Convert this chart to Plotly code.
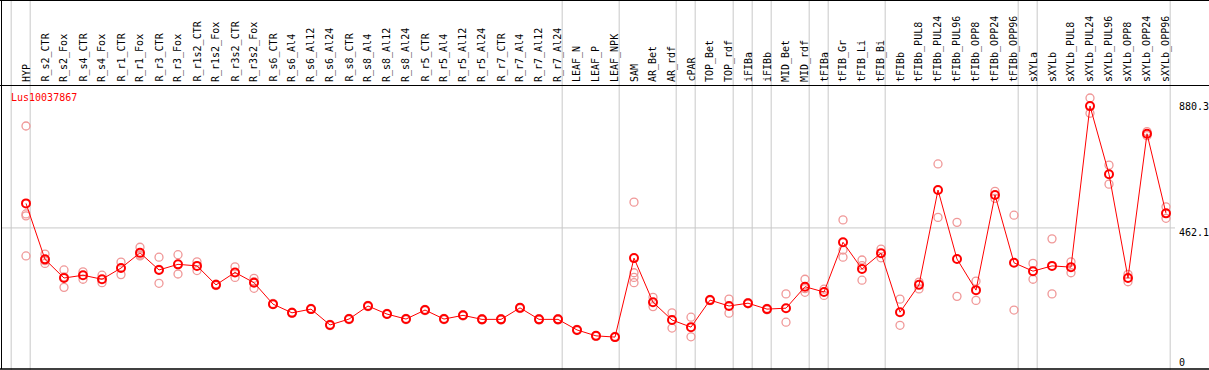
import plotly.graph_objects as go

gene_name = "Lus10037867"

categories = [
    "HYP", "R_s2_CTR", "R_s2_Fox", "R_s4_CTR", "R_s4_Fox", "R_r1_CTR", "R_r1_Fox",
    "R_r3_CTR", "R_r3_Fox", "R_r1s2_CTR", "R_r1s2_Fox", "R_r3s2_CTR", "R_r3s2_Fox",
    "R_s6_CTR", "R_s6_Al4", "R_s6_Al12", "R_s6_Al24", "R_s8_CTR", "R_s8_Al4",
    "R_s8_Al12", "R_s8_Al24", "R_r5_CTR", "R_r5_Al4", "R_r5_Al12", "R_r5_Al24",
    "R_r7_CTR", "R_r7_Al4", "R_r7_Al12", "R_r7_Al24", "LEAF_N", "LEAF_P", "LEAF_NPK",
    "SAM", "AR_Bet", "AR_rdf", "cPAR", "TOP_Bet", "TOP_rdf", "iFIBa", "iFIBb",
    "MID_Bet", "MID_rdf", "tFIBa", "tFIB_Gr", "tFIB_Li", "tFIB_Bi", "tFIBb",
    "tFIBb_PUL8", "tFIBb_PUL24", "tFIBb_PUL96", "tFIBb_OPP8", "tFIBb_OPP24",
    "tFIBb_OPP96", "sXYLa", "sXYLb", "sXYLb_PUL8", "sXYLb_PUL24", "sXYLb_PUL96",
    "sXYLb_OPP8", "sXYLb_OPP24", "sXYLb_OPP96",
]

mean_values = [
    541, 361, 301, 310, 297, 333, 382, 327, 345, 340, 279, 319, 286,
    217, 189, 201, 150, 169, 211, 185, 169, 198, 169, 181, 168,
    168, 205, 168, 168, 134, 115, 111,
    365, 223, 166, 143, 230, 211, 220, 201, 204, 273,
    256, 416, 330, 381, 191, 279, 584, 362, 262, 568, 350,
    323, 340, 336, 854, 635, 301, 765, 509,
]

replicate_values = [
    [790, 507, 501, 372], [378, 357, 348], [327, 305, 271], [321, 297], [310, 286],
    [352, 312], [400, 375, 372], [368, 329, 284], [376, 314], [353, 325], [281, 277],
    [337, 303], [300, 289, 268],
    [219, 216], [191, 188], [203, 200], [152, 148], [171, 167], [213, 209], [187, 184],
    [171, 167], [200, 196], [171, 167], [183, 179], [170, 166],
    [170, 166], [206, 203], [170, 166], [170, 166], [136, 132], [116, 113], [113, 110],
    [545, 318, 303, 286], [239, 209], [189, 140], [175, 112], [232, 228], [233, 188],
    [222, 218], [203, 199], [250, 159], [297, 267, 255],
    [265, 245], [488, 391, 368], [359, 341, 294], [394, 366], [233, 149], [288, 266],
    [668, 496], [480, 242], [291, 229], [580, 557], [503, 198],
    [348, 297], [427, 250], [353, 318], [880, 831], [664, 603], [313, 289],
    [772, 759], [530, 493],
]

y_tick_labels = ["880.3", "462.1", "0"]
grid_value = 462.1
group_last_index = [-1, 0, 28, 31, 34, 35, 37, 38, 39, 41, 42, 45, 52, 53, 60]

W, H = 1209, 370
MONO = "DejaVu Sans Mono"

rep_x, rep_y = [], []
for cat, reps in zip(categories, replicate_values):
    for v in reps:
        rep_x.append(cat)
        rep_y.append(v)

fig = go.Figure()
fig.add_trace(go.Scatter(
    x=rep_x, y=rep_y, mode="markers",
    marker=dict(symbol="circle-open", size=8, color="#f09898", line=dict(width=1.3)),
    hoverinfo="skip", showlegend=False,
))
fig.add_trace(go.Scatter(
    x=categories, y=mean_values, mode="lines+markers",
    line=dict(color="#ff0000", width=1),
    marker=dict(symbol="circle-open", size=8, color="#ff0000", line=dict(width=2)),
    showlegend=False,
))


def px_y(py):
    return 1 - py / H


shapes = []
for idx in group_last_index:
    shapes.append(dict(type="line", xref="x", yref="paper", x0=idx + 0.22, x1=idx + 0.22,
                       y0=0, y1=1, line=dict(color="#c8c8c8", width=1), layer="below"))
shapes.append(dict(type="line", xref="paper", yref="y", x0=1 / W, x1=1175 / W,
                   y0=grid_value, y1=grid_value, line=dict(color="#c8c8c8", width=1), layer="below"))
shapes += [
    dict(type="line", xref="paper", yref="paper", x0=0, x1=1, y0=px_y(0.5), y1=px_y(0.5),
         line=dict(color="black", width=1)),
    dict(type="line", xref="paper", yref="paper", x0=0, x1=1, y0=px_y(85.5), y1=px_y(85.5),
         line=dict(color="black", width=1)),
    dict(type="line", xref="paper", yref="paper", x0=0, x1=1, y0=px_y(369), y1=px_y(369),
         line=dict(color="black", width=1.5)),
    dict(type="line", xref="paper", yref="paper", x0=1.5 / W, x1=1.5 / W, y0=px_y(369), y1=px_y(0),
         line=dict(color="black", width=1)),
]

annotations = []
for cat in categories:
    annotations.append(dict(x=cat, xref="x", y=px_y(84), yref="paper", text=cat,
                            textangle=-90, xanchor="center", yanchor="bottom", showarrow=False,
                            font=dict(family=MONO, size=10, color="black")))
annotations.append(dict(x=9 / W, xref="paper", y=px_y(97), yref="paper", text=gene_name,
                        xanchor="left", yanchor="middle", showarrow=False,
                        font=dict(family=MONO, size=10, color="#ff0000")))
for lab, py in zip(y_tick_labels, [107, 232.5, 362]):
    annotations.append(dict(x=1177 / W, xref="paper", y=px_y(py), yref="paper", text=lab,
                            xanchor="left", yanchor="middle", showarrow=False,
                            font=dict(family=MONO, size=10, color="black")))

y_px0, k = 371.6, 0.3109
fig.update_layout(
    width=W, height=H, autosize=False,
    margin=dict(l=0, r=0, t=0, b=0, pad=0),
    paper_bgcolor="white", plot_bgcolor="white",
    xaxis=dict(visible=False, range=[-26 / 19, (W - 26) / 19], type="category",
               categoryorder="array", categoryarray=categories, fixedrange=True),
    yaxis=dict(visible=False, range=[(y_px0 - H) / k, y_px0 / k], fixedrange=True),
    shapes=shapes, annotations=annotations,
)

fig.write_html(
    "out.html",
    config={"displayModeBar": False},
    post_script="document.body.style.margin='0';document.body.style.overflow='hidden';",
)
